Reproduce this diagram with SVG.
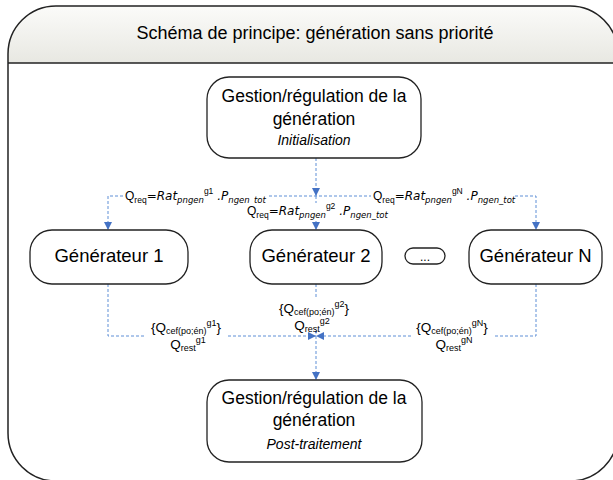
<svg xmlns="http://www.w3.org/2000/svg" width="613" height="480" viewBox="0 0 613 480">
<style>
.node{fill:#fff;stroke:#222;stroke-width:1.3}
.nt{font-family:"Liberation Sans",Arial,sans-serif;font-size:18.5px;fill:#000;text-anchor:middle}
.nt2{font-family:"Liberation Sans",Arial,sans-serif;font-size:17.5px;fill:#000;text-anchor:middle}
.it{font-family:"Liberation Sans",Arial,sans-serif;font-size:14px;font-style:italic;fill:#000;text-anchor:middle}
.con{fill:none;stroke:#5e8fd6;stroke-width:1;stroke-dasharray:3 2}
.lb{font-family:"Liberation Sans",Arial,sans-serif;font-size:12px;fill:#000}
.s{font-size:8.5px}
.v{font-family:"DejaVu Sans",Verdana,sans-serif;font-style:italic;font-size:12px}
.vs{font-family:"DejaVu Sans",Verdana,sans-serif;font-style:italic;font-size:8.5px}
.lb2{font-family:"Liberation Sans",Arial,sans-serif;font-size:13.5px;fill:#000;text-anchor:middle}
.s2{font-size:9px}
</style>
<defs>
<linearGradient id="hdr" x1="0" y1="0" x2="0" y2="1">
<stop offset="0" stop-color="#fbfbf9"/>
<stop offset="1" stop-color="#e8e8e2"/>
</linearGradient>
<marker id="arr" viewBox="0 0 10 10" refX="10" refY="5" markerWidth="8" markerHeight="8" markerUnits="userSpaceOnUse" orient="auto">
<path d="M0,0 L10,5 L0,10 z" fill="#4472c4"/>
</marker>
</defs>

<g id="frame">
<path d="M8,63 L8,54 A48,48 0 0 1 56,6 L570,6 A48,48 0 0 1 618,54 L618,63 Z" fill="url(#hdr)"/>
<rect x="8" y="6" width="610" height="475" rx="48" ry="48" fill="none" stroke="#222" stroke-width="1.5"/>
<line x1="8" y1="63" x2="618" y2="63" stroke="#222" stroke-width="1.3"/>
<text x="315" y="39" font-family="Liberation Sans, Arial, sans-serif" font-size="18" text-anchor="middle" fill="#000">Schéma de principe: génération sans priorité</text>
</g>

<g id="connectors">
<line class="con" x1="316" y1="158" x2="316" y2="196" marker-end="url(#arr)"/>
<polyline class="con" points="123,196 108,196 108,230" marker-end="url(#arr)"/>
<line class="con" x1="269" y1="196" x2="371" y2="196"/>
<polyline class="con" points="515,196 536,196 536,230" marker-end="url(#arr)"/>
<line class="con" x1="316" y1="196" x2="316" y2="230" marker-end="url(#arr)"/>
<polyline class="con" points="108,284 108,336 146,336"/>
<line class="con" x1="228" y1="336" x2="316" y2="336" marker-end="url(#arr)"/>
<polyline class="con" points="536,284 536,336 494,336"/>
<line class="con" x1="411" y1="336" x2="316" y2="336" marker-end="url(#arr)"/>
<line class="con" x1="316" y1="284" x2="316" y2="334" marker-end="url(#arr)"/>
<line class="con" x1="316" y1="336" x2="316" y2="380" marker-end="url(#arr)"/>

<g id="label-req-g1">
<text class="lb" x="125" y="200">Q<tspan class="s" dy="3">req</tspan><tspan class="v" dy="-3">=Rat</tspan><tspan class="vs" dy="3">pngen</tspan><tspan class="s" dy="-9">g1</tspan><tspan class="v" dy="6"> .</tspan><tspan class="v">P</tspan><tspan class="vs" dy="3">ngen_tot</tspan></text>
</g>
<g id="label-req-g2">
<rect x="245" y="203" width="146" height="17" fill="#fff"/>
<text class="lb" x="247" y="215">Q<tspan class="s" dy="3">req</tspan><tspan class="v" dy="-3">=Rat</tspan><tspan class="vs" dy="3">pngen</tspan><tspan class="s" dy="-9">g2</tspan><tspan class="v" dy="6"> .</tspan><tspan class="v">P</tspan><tspan class="vs" dy="3">ngen_tot</tspan></text>
</g>
<g id="label-req-gN">
<text class="lb" x="373" y="200">Q<tspan class="s" dy="3">req</tspan><tspan class="v" dy="-3">=Rat</tspan><tspan class="vs" dy="3">pngen</tspan><tspan class="s" dy="-9">gN</tspan><tspan class="v" dy="6"> .</tspan><tspan class="v">P</tspan><tspan class="vs" dy="3">ngen_tot</tspan></text>
</g>

<g id="label-cef-g1">
<text class="lb2" x="186" y="332">{Q<tspan class="s2" dy="2">cef(po;én)</tspan><tspan class="s2" dy="-8">g1</tspan><tspan dy="6">}</tspan></text>
<text class="lb2" x="188" y="349">Q<tspan class="s2" dy="2">rest</tspan><tspan class="s2" dy="-8">g1</tspan></text>
</g>
<g id="label-cef-g2">
<rect x="270" y="297" width="90" height="34" fill="#fff"/>
<text class="lb2" x="314" y="313">{Q<tspan class="s2" dy="2">cef(po;én)</tspan><tspan class="s2" dy="-8">g2</tspan><tspan dy="6">}</tspan></text>
<text class="lb2" x="312" y="330">Q<tspan class="s2" dy="2">rest</tspan><tspan class="s2" dy="-8">g2</tspan></text>
</g>
<g id="label-cef-gN">
<text class="lb2" x="452" y="332">{Q<tspan class="s2" dy="2">cef(po;én)</tspan><tspan class="s2" dy="-8">gN</tspan><tspan dy="6">}</tspan></text>
<text class="lb2" x="454" y="349">Q<tspan class="s2" dy="2">rest</tspan><tspan class="s2" dy="-8">gN</tspan></text>
</g>
</g>

<g id="node-init">
<rect class="node" x="207" y="77" width="214" height="81" rx="22" ry="22"/>
<text class="nt2" x="314" y="102">Gestion/régulation de la</text>
<text class="nt2" x="314" y="125">génération</text>
<text class="it" x="314" y="145">Initialisation</text>
</g>

<g id="node-gen1">
<rect class="node" x="30" y="230" width="158" height="54" rx="22" ry="22"/>
<text class="nt" x="109" y="262">Générateur 1</text>
</g>
<g id="node-gen2">
<rect class="node" x="250" y="230" width="132" height="54" rx="22" ry="22"/>
<text class="nt" x="316" y="262">Générateur 2</text>
</g>
<g id="node-dots">
<rect class="node" x="405" y="248" width="40" height="16" rx="8" ry="8"/>
<text x="425" y="261" font-family="Liberation Sans, Arial, sans-serif" font-size="12" text-anchor="middle" fill="#000">...</text>
</g>
<g id="node-genN">
<rect class="node" x="469" y="230" width="133" height="54" rx="22" ry="22"/>
<text class="nt" x="535.5" y="262">Générateur N</text>
</g>

<g id="node-post">
<rect class="node" x="207" y="380" width="215" height="82" rx="22" ry="22"/>
<text class="nt2" x="314" y="404">Gestion/régulation de la</text>
<text class="nt2" x="314" y="426">génération</text>
<text class="it" x="314" y="449">Post-traitement</text>
</g>
</svg>
